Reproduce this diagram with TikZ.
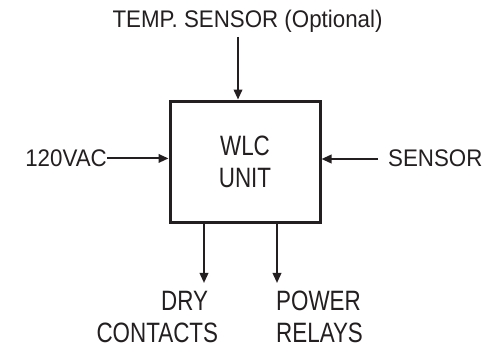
\documentclass[tikz,border=0pt]{standalone}
\usepackage{fontspec}
\setmainfont{Liberation Sans}
\newfontfamily\outerfont[FakeStretch=0.93]{Liberation Sans}
\newfontfamily\innerfont[FakeStretch=0.80]{Liberation Sans}
\usetikzlibrary{arrows.meta}
\definecolor{ink}{HTML}{231F20}
\tikzset{
  arr/.style={draw=ink, line width=2pt, -{Triangle[length=10pt,width=8.5pt]}},
  outerlbl/.style={inner sep=0pt, text=ink, font=\outerfont\fontsize{24}{28}\selectfont},
  innerlbl/.style={inner sep=0pt, text=ink, font=\innerfont\fontsize{28}{32}\selectfont},
  unitbox/.style={draw=ink, line width=3pt, minimum width=150pt, minimum height=121.3pt,
    inner sep=0pt, align=center, text=ink, font=\innerfont\fontsize{28}{32.6}\selectfont}
}
\begin{document}
\begin{tikzpicture}[x=1pt,y=-1pt]
\useasboundingbox (0,0) rectangle (492,352);
\node[unitbox] (box) at (245,161.7) {WLC\\UNIT};
\node[outerlbl, anchor=base] (temp) at (247.5,27.7) {TEMP. SENSOR (Optional)};
\node[outerlbl, anchor=base east] (vac) at (107,166.7) {120VAC};
\node[outerlbl, anchor=base west] (sens) at (388,167) {SENSOR};
\node[innerlbl, anchor=north east, align=right] (dry) at (218.3,291) {DRY\hspace*{10pt}\\CONTACTS};
\node[innerlbl, anchor=north west, align=left] (pwr) at (276,291) {POWER\\RELAYS};
\coordinate (t1) at (238,37);
\coordinate (s1) at (378,159);
\coordinate (d1) at (204,283);
\coordinate (p1) at (277,283);
\draw[arr] (t1) -- (t1 |- box.north);
\draw[arr] (vac.east) -- (vac.east -| box.west);
\draw[arr] (s1) -- (s1 -| box.east);
\draw[arr] (d1 |- box.south) -- (d1);
\draw[arr] (p1 |- box.south) -- (p1);
\end{tikzpicture}
\end{document}
